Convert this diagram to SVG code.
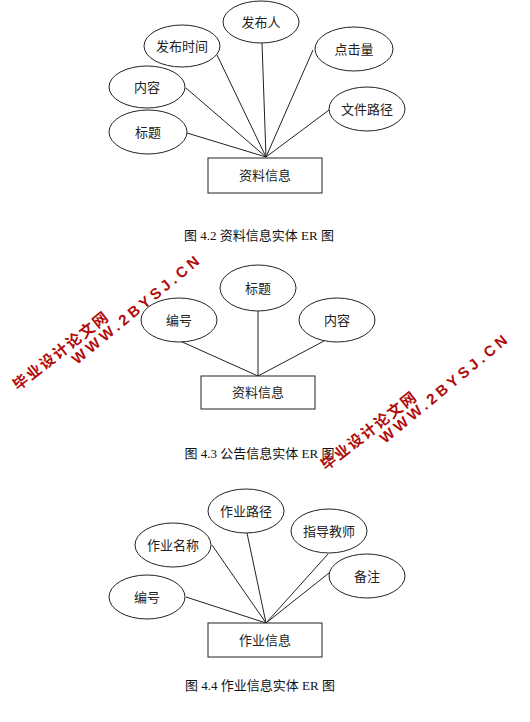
<svg xmlns="http://www.w3.org/2000/svg" width="530" height="722" viewBox="0 0 530 722">
<style>
.attr{fill:#fff;stroke:#222;stroke-width:1}
.ent{fill:#fff;stroke:#222;stroke-width:1}
.lbl{font-family:"Noto Sans CJK SC","Noto Sans",sans-serif;font-size:13px;fill:#222;text-anchor:middle}
.cap{font-family:"Liberation Serif","Noto Sans CJK SC",serif;font-size:13px;fill:#111;text-anchor:middle}
.edge{stroke:#222;stroke-width:1;fill:none}
.wmc{font-family:"Noto Sans CJK SC",sans-serif;font-weight:bold;font-size:15px;fill:#b00c0c}
.wme{font-family:"Liberation Sans",Arial,sans-serif;font-weight:bold;font-size:15px;fill:#b00c0c}
</style>
<rect width="530" height="722" fill="#fff"/>

<!-- connectors -->
<g id="connectors">
  <line class="edge" x1="262" y1="43" x2="266" y2="157"/>
  <line class="edge" x1="217" y1="55" x2="266" y2="157"/>
  <line class="edge" x1="186" y1="88" x2="266" y2="157"/>
  <line class="edge" x1="187" y1="133" x2="266" y2="157"/>
  <line class="edge" x1="313" y1="50" x2="266" y2="157"/>
  <line class="edge" x1="329" y1="110" x2="266" y2="157"/>

  <line class="edge" x1="180" y1="341" x2="258" y2="376"/>
  <line class="edge" x1="258" y1="311" x2="258" y2="376"/>
  <line class="edge" x1="324" y1="341" x2="258" y2="376"/>

  <line class="edge" x1="247" y1="533" x2="266" y2="623"/>
  <line class="edge" x1="212" y1="545" x2="266" y2="623"/>
  <line class="edge" x1="328" y1="554" x2="266" y2="623"/>
  <line class="edge" x1="329" y1="573" x2="266" y2="623"/>
  <line class="edge" x1="186" y1="597" x2="266" y2="623"/>
</g>

<!-- Diagram 4.2 -->
<g id="d1-publisher"><ellipse class="attr" cx="261" cy="22" rx="38" ry="21"/><text class="lbl" x="261" y="26.5">发布人</text></g>
<g id="d1-time"><ellipse class="attr" cx="182" cy="46" rx="38" ry="21"/><text class="lbl" x="182" y="50.5">发布时间</text></g>
<g id="d1-content"><ellipse class="attr" cx="147" cy="87" rx="38" ry="21"/><text class="lbl" x="147" y="91.5">内容</text></g>
<g id="d1-title"><ellipse class="attr" cx="148" cy="132" rx="39" ry="22"/><text class="lbl" x="148" y="136.5">标题</text></g>
<g id="d1-clicks"><ellipse class="attr" cx="354" cy="49" rx="39" ry="22"/><text class="lbl" x="354" y="53.5">点击量</text></g>
<g id="d1-path"><ellipse class="attr" cx="367" cy="109" rx="38" ry="22"/><text class="lbl" x="367" y="113.5">文件路径</text></g>
<g id="d1-entity"><rect class="ent" x="208" y="158" width="114" height="35"/><text class="lbl" x="265" y="180">资料信息</text></g>
<text class="cap" x="259" y="240">图 4.2 资料信息实体 ER 图</text>

<!-- Diagram 4.3 -->
<g id="d2-title"><ellipse class="attr" cx="258" cy="288" rx="38" ry="23"/><text class="lbl" x="258" y="292.5">标题</text></g>
<g id="d2-id"><ellipse class="attr" cx="179" cy="320" rx="38" ry="22"/><text class="lbl" x="179" y="324.5">编号</text></g>
<g id="d2-content"><ellipse class="attr" cx="337" cy="320" rx="38" ry="22"/><text class="lbl" x="337" y="324.5">内容</text></g>
<g id="d2-entity"><rect class="ent" x="201" y="376" width="114" height="33"/><text class="lbl" x="258" y="397">资料信息</text></g>
<text class="cap" x="259.5" y="458">图 4.3 公告信息实体 ER 图</text>

<!-- Diagram 4.4 -->
<g id="d3-path"><ellipse class="attr" cx="246" cy="511" rx="38" ry="22"/><text class="lbl" x="246" y="515.5">作业路径</text></g>
<g id="d3-name"><ellipse class="attr" cx="173" cy="545" rx="38" ry="22"/><text class="lbl" x="173" y="549.5">作业名称</text></g>
<g id="d3-teacher"><ellipse class="attr" cx="329" cy="531" rx="38" ry="22"/><text class="lbl" x="329" y="535.5">指导教师</text></g>
<g id="d3-note"><ellipse class="attr" cx="367" cy="576" rx="38" ry="22"/><text class="lbl" x="367" y="580.5">备注</text></g>
<g id="d3-id"><ellipse class="attr" cx="147" cy="597" rx="38" ry="22"/><text class="lbl" x="147" y="601.5">编号</text></g>
<g id="d3-entity"><rect class="ent" x="208" y="623" width="114" height="34"/><text class="lbl" x="265" y="644.5">作业信息</text></g>
<text class="cap" x="260" y="690">图 4.4 作业信息实体 ER 图</text>

<!-- watermarks -->
<g id="watermark1">
  <text class="wmc" transform="translate(18,391) rotate(-38)" textLength="116" lengthAdjust="spacing">毕业设计论文网</text>
  <text class="wme" transform="translate(77,365) rotate(-39.5)" textLength="160" lengthAdjust="spacing">WWW.2BYSJ.CN</text>
</g>
<g id="watermark2">
  <text class="wmc" transform="translate(326,471) rotate(-38)" textLength="116" lengthAdjust="spacing">毕业设计论文网</text>
  <text class="wme" transform="translate(385,444) rotate(-39.5)" textLength="160" lengthAdjust="spacing">WWW.2BYSJ.CN</text>
</g>
</svg>
